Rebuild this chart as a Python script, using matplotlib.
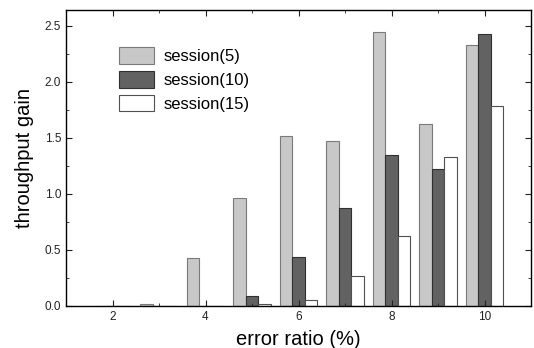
import numpy as np
import matplotlib
matplotlib.use("Agg")
import matplotlib.pyplot as plt
from matplotlib.ticker import MultipleLocator, FormatStrFormatter

# error ratio (%) groups
error_ratio = [2, 3, 4, 5, 6, 7, 8, 9, 10]
session5 = [0.0, 0.02, 0.43, 0.96, 1.52, 1.47, 2.44, 1.62, 2.33]
session10 = [0.0, 0.0, 0.0, 0.09, 0.44, 0.87, 1.35, 1.22, 2.43]
session15 = [0.0, 0.0, 0.0, 0.015, 0.05, 0.27, 0.62, 1.33, 1.78]
labels = ["session(5)", "session(10)", "session(15)"]

plt.rcParams["font.family"] = ["Liberation Sans", "DejaVu Sans"]

fig = plt.figure(figsize=(5.34, 3.48), dpi=100)
ax = fig.add_axes([66 / 534, 1 - 306 / 348, (531 - 66) / 534, (306 - 10) / 348])

x = np.array(error_ratio, dtype=float)
w = 0.27
ax.bar(x - w, session5, w, color="#c8c8c8", edgecolor="#7a7a7a", linewidth=0.8, label=labels[0])
ax.bar(x, session10, w, color="#626262", edgecolor="#303030", linewidth=0.8, label=labels[1])
ax.bar(x + w, session15, w, color="white", edgecolor="#505050", linewidth=0.8, label=labels[2])

ax.set_xlim(1, 11)
ax.set_ylim(0, 2.64)
ax.xaxis.set_major_locator(MultipleLocator(2))
ax.xaxis.set_minor_locator(MultipleLocator(1))
ax.yaxis.set_major_locator(MultipleLocator(0.5))
ax.yaxis.set_minor_locator(MultipleLocator(0.25))
ax.yaxis.set_major_formatter(FormatStrFormatter("%.1f"))
ax.tick_params(which="both", direction="in", top=True, right=True, labelsize=8.5, colors="#222222")
ax.tick_params(which="major", length=4)
ax.tick_params(which="minor", length=2.5)
for s in ax.spines.values():
    s.set_linewidth(1.0)

ax.set_xlabel("error ratio (%)", fontsize=14.5, labelpad=5)
ax.set_ylabel("throughput gain", fontsize=14.5, labelpad=8)

ax.legend(loc="upper left", bbox_to_anchor=(0.088, 0.913), frameon=False, fontsize=12,
          handlelength=2.1, handleheight=1.15, labelspacing=0.4, handletextpad=0.6,
          borderpad=0.2)

fig.savefig("out.png", dpi=100)
